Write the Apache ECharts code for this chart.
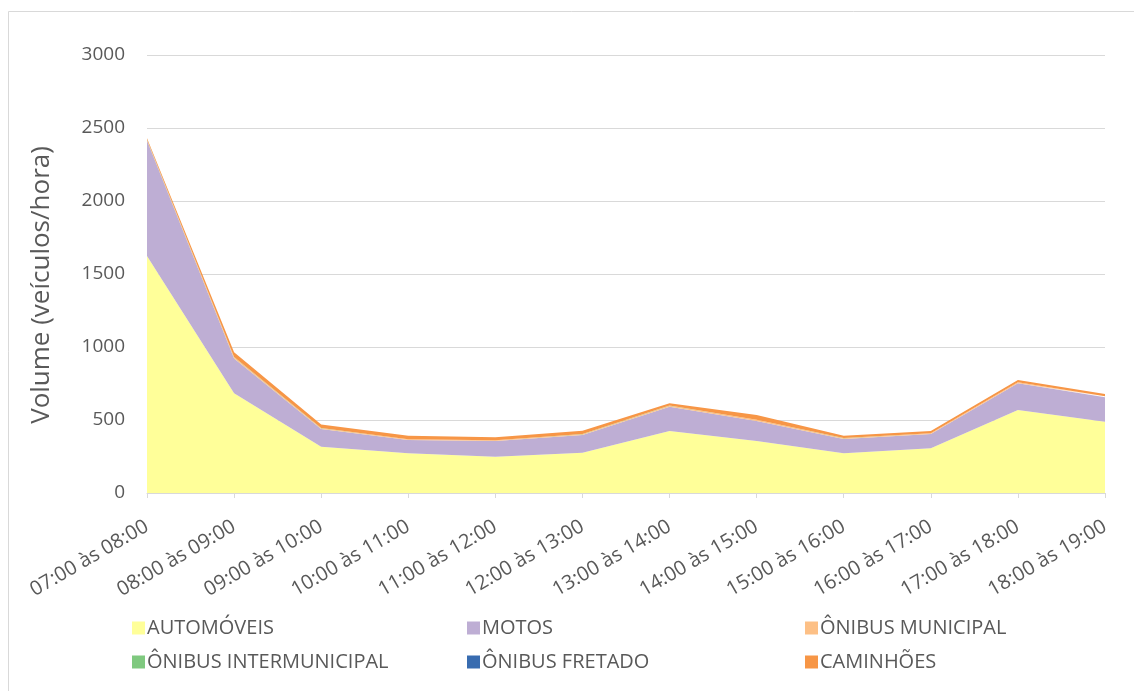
<!DOCTYPE html>
<html>
<head>
<meta charset="utf-8">
<script src="https://cdn.jsdelivr.net/npm/echarts@6/dist/echarts.min.js"></script>
<style>
html,body{margin:0;padding:0;background:#fff;}
#chart{width:1134px;height:691px;}
</style>
</head>
<body>
<div id="chart"></div>
<script>
const categories = ["07:00 às 08:00","08:00 às 09:00","09:00 às 10:00","10:00 às 11:00","11:00 às 12:00","12:00 às 13:00","13:00 às 14:00","14:00 às 15:00","15:00 às 16:00","16:00 às 17:00","17:00 às 18:00","18:00 às 19:00"];
const automoveis = [1623, 683, 317, 272, 249, 276, 425, 356, 272, 306, 568, 488];
const motos = [791, 239, 121, 91, 107, 121, 166, 137, 98, 98, 183, 167];
const onibusMunicipal = [6, 8, 6, 5, 5, 6, 7, 8, 5, 5, 7, 6];
const onibusIntermunicipal = [1, 1, 1, 1, 1, 1, 1, 1, 1, 1, 1, 1];
const onibusFretado = [0, 1, 0, 0, 0, 0, 0, 0, 0, 0, 0, 0];
const caminhoes = [9, 32, 25, 23, 19, 23, 15, 32, 16, 15, 15, 16];
const yTicks = [0, 500, 1000, 1500, 2000, 2500, 3000];

const seriesDefs = [
  {name: "AUTOMÓVEIS", data: automoveis, color: "#FFFF99"},
  {name: "MOTOS", data: motos, color: "#BEAED4"},
  {name: "ÔNIBUS MUNICIPAL", data: onibusMunicipal, color: "#FDC086"},
  {name: "ÔNIBUS INTERMUNICIPAL", data: onibusIntermunicipal, color: "#7FC97F"},
  {name: "ÔNIBUS FRETADO", data: onibusFretado, color: "#386CB0"},
  {name: "CAMINHÕES", data: caminhoes, color: "#F79646"}
];

const FONT = '"Open Sans", "Noto Sans", sans-serif';
const legendPos = [
  [127, 613], [462, 613], [800, 613],
  [127, 647], [462, 647], [800, 647]
];

const chart = echarts.init(document.getElementById('chart'), null, {renderer: 'canvas'});
chart.setOption({
  animation: false,
  backgroundColor: '#fff',
  textStyle: {fontFamily: FONT},
  graphic: [{
    type: 'rect',
    shape: {x: 8.5, y: 11.5, width: 1140, height: 700},
    style: {fill: 'none', stroke: '#d9d9d9', lineWidth: 1},
    silent: true
  }],
  grid: {left: 147, right: 29, top: 55, bottom: 198},
  legend: seriesDefs.map((s, i) => ({
    data: [s.name],
    left: legendPos[i][0],
    top: legendPos[i][1],
    icon: 'rect',
    itemWidth: 13,
    itemHeight: 13,
    itemGap: 4,
    textStyle: {fontFamily: FONT, fontSize: 20, color: '#595959', padding: [0,0,0,-3]},
    selectedMode: false
  })),
  xAxis: {
    type: 'category',
    data: categories,
    boundaryGap: false,
    axisLine: {lineStyle: {color: '#d9d9d9', width: 1}},
    axisTick: {show: true, length: 5, lineStyle: {color: '#d9d9d9'}},
    axisLabel: {rotate: 30, color: '#595959', fontSize: 20, fontFamily: FONT, margin: 32, interval: 0}
  },
  yAxis: {
    type: 'value',
    min: 0, max: 3000, interval: 500,
    name: 'Volume (veículos/hora)',
    nameLocation: 'middle',
    nameGap: 92,
    nameTextStyle: {fontSize: 26, color: '#595959', fontFamily: FONT, padding: [0, 22, 0, 0]},
    axisLine: {show: false},
    axisTick: {show: false},
    axisLabel: {color: '#595959', fontSize: 19, fontFamily: FONT, margin: 22,
      formatter: v => yTicks.includes(v) ? String(v) : ''},
    splitLine: {lineStyle: {color: '#d9d9d9', width: 1}}
  },
  series: seriesDefs.map(s => ({
    name: s.name,
    type: 'line',
    stack: 'total',
    data: s.data,
    symbol: 'none',
    showSymbol: false,
    itemStyle: {color: s.color},
    lineStyle: {width: 0, color: s.color},
    areaStyle: {color: s.color, opacity: 1}
  }))
});
</script>
</body>
</html>
